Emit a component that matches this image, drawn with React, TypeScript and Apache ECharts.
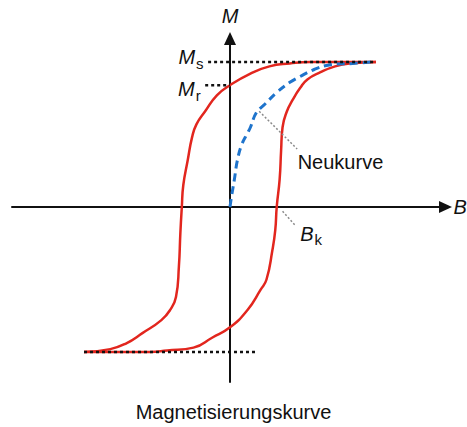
import { useEffect, useRef } from "react";
import * as echarts from "echarts";

// Field strength B and magnetisation M, normalised to the saturation point (1, 1).
const upperBranch: [number, number][] = [
  [1.0, 1.0], [0.75, 1.0], [0.55, 1.0], [0.41, 0.99], [0.27, 0.97], [0.14, 0.92],
  [0.0, 0.84], [-0.09, 0.77], [-0.17, 0.66], [-0.23, 0.57], [-0.26, 0.48],
  [-0.29, 0.32], [-0.32, 0.15], [-0.33, 0.0], [-0.34, -0.18], [-0.35, -0.41],
  [-0.37, -0.62], [-0.41, -0.71], [-0.47, -0.78], [-0.6, -0.87], [-0.71, -0.94],
  [-0.82, -0.98], [-1.0, -1.0],
];

const lowerBranch: [number, number][] = [
  [-1.0, -1.0], [-0.75, -1.0], [-0.55, -1.0], [-0.43, -0.99], [-0.25, -0.97],
  [-0.12, -0.9], [0.0, -0.83], [0.12, -0.71], [0.21, -0.57], [0.25, -0.5],
  [0.29, -0.3], [0.31, -0.16], [0.32, 0.0], [0.34, 0.19], [0.35, 0.39],
  [0.36, 0.55], [0.39, 0.66], [0.43, 0.74], [0.48, 0.82], [0.53, 0.88],
  [0.62, 0.93], [0.72, 0.97], [0.82, 0.99], [1.0, 1.0],
];

// Neukurve: first magnetisation from the demagnetised state
const initialCurve: [number, number][] = [
  [0.0, 0.0], [0.01, 0.07], [0.03, 0.19], [0.05, 0.32], [0.08, 0.43], [0.12, 0.51],
  [0.14, 0.55], [0.18, 0.65], [0.24, 0.71], [0.32, 0.79], [0.41, 0.86],
  [0.48, 0.9], [0.58, 0.95], [0.68, 0.98], [0.84, 0.99], [0.97, 1.0],
];

// Reference levels: saturation Ms, remanence Mr, negative saturation
const saturationLine: [number, number][] = [[-0.15, 1.0], [1.0, 1.0]];
const remanenceLine: [number, number][] = [[-0.17, 0.84], [0.0, 0.84]];
const negSaturationLine: [number, number][] = [[-1.0, -1.0], [0.19, -1.0]];

// Leader lines for the annotations
const initialLeader: [number, number][] = [[0.2, 0.66], [0.46, 0.4]];
const coercivityLeader: [number, number][] = [[0.36, -0.03], [0.45, -0.13]];

const annotationKeys = ["Ms", "Mr", "Bk", "Neukurve"];
const annotationAnchors: [number, number][] = [
  saturationLine[0], remanenceLine[0], coercivityLeader[1], initialLeader[1],
];
const annotationTexts = ["{m|M}{s|s}", "{m|M}{s|r}", "{m|B}{s|k}", "{t|Neukurve}"];

const axisNames = { x: "B", y: "M" };
const caption = "Magnetisierungskurve";

// pixel layout
const W = 467;
const H = 427;
const ORIGIN_X = 230;
const ORIGIN_Y = 207;
const PX_PER_B = 146;
const PX_PER_M = 145;
const AXIS_LEFT = 12;
const AXIS_RIGHT = 445.5;
const AXIS_TOP = 38.5;
const AXIS_BOTTOM = 382;

const FONT = "'Liberation Sans', Arial, sans-serif";
const INK = "#111111";
const RED = "#e2261e";
const BLUE = "#1f74cc";

export default function App() {
  const ref = useRef<HTMLDivElement>(null);

  useEffect(() => {
    if (!ref.current) return;
    const chart = echarts.init(ref.current, undefined, { renderer: "svg" });

    const axisCommon = {
      type: "value" as const,
      axisTick: { show: false },
      axisLabel: { show: false },
      splitLine: { show: false },
      nameLocation: "end" as const,
      nameTextStyle: { fontSize: 20, fontStyle: "italic", fontFamily: FONT, color: INK },
    };

    const placements: Record<string, any> = {
      Ms: { position: "left", distance: 4, offset: [0, -5] },
      Mr: { position: "left", distance: 4, offset: [0, 4] },
      Bk: { position: "right", distance: 4, offset: [0, 8] },
      Neukurve: { position: "right", distance: 0, offset: [0, 13] },
    };

    const labelData = annotationKeys.map((k, i) => ({
      name: k,
      value: annotationAnchors[i],
      label: { show: true, formatter: annotationTexts[i], ...placements[k] },
    }));

    chart.setOption({
      animation: false,
      grid: {
        left: AXIS_LEFT,
        right: W - AXIS_RIGHT,
        top: AXIS_TOP,
        bottom: H - AXIS_BOTTOM,
        containLabel: false,
        outerBoundsMode: "none",
      },
      title: {
        text: caption,
        left: "center",
        top: 397,
        textStyle: { fontSize: 20, fontWeight: "normal", fontFamily: FONT, color: INK },
      },
      xAxis: {
        ...axisCommon,
        min: (AXIS_LEFT - ORIGIN_X) / PX_PER_B,
        max: (AXIS_RIGHT - ORIGIN_X) / PX_PER_B,
        name: axisNames.x,
        nameGap: 8,
        axisLine: {
          onZero: true,
          symbol: ["none", "triangle"],
          symbolSize: [12, 13],
          lineStyle: { color: INK, width: 2 },
        },
      },
      yAxis: {
        ...axisCommon,
        min: -(AXIS_BOTTOM - ORIGIN_Y) / PX_PER_M,
        max: (ORIGIN_Y - AXIS_TOP) / PX_PER_M,
        name: axisNames.y,
        nameGap: 13,
        axisLine: {
          onZero: true,
          symbol: ["none", "triangle"],
          symbolSize: [12, 13],
          lineStyle: { color: INK, width: 2 },
        },
      },
      series: [
        {
          type: "line",
          data: upperBranch,
          smooth: 0.5,
          showSymbol: false,
          lineStyle: { color: RED, width: 2.5 },
          z: 3,
        },
        {
          type: "line",
          data: lowerBranch,
          smooth: 0.5,
          showSymbol: false,
          lineStyle: { color: RED, width: 2.5 },
          z: 3,
        },
        {
          type: "line",
          data: initialCurve,
          smooth: 0.4,
          showSymbol: false,
          lineStyle: { color: BLUE, width: 3, type: [8, 5] },
          z: 4,
        },
        ...[saturationLine, remanenceLine, negSaturationLine].map((d) => ({
          type: "line",
          data: d,
          showSymbol: false,
          lineStyle: { color: "#111", width: 2.5, type: [3, 3] },
          z: 5,
        })),
        ...[initialLeader, coercivityLeader].map((d) => ({
          type: "line",
          data: d,
          showSymbol: false,
          lineStyle: { color: "#8a8a8a", width: 1.5, type: [2, 2] },
          z: 5,
        })),
        {
          type: "scatter",
          data: labelData,
          symbolSize: 1,
          itemStyle: { color: "rgba(0,0,0,0)" },
          z: 6,
          label: {
            show: true,
            color: INK,
            opacity: 1,
            textBorderWidth: 0,
            fontFamily: FONT,
            rich: {
              m: { fontSize: 20, fontStyle: "italic", fontFamily: FONT, color: INK, lineHeight: 24 },
              s: { fontSize: 15, fontFamily: FONT, color: INK, padding: [12, 0, 0, 1], lineHeight: 15 },
              t: { fontSize: 20, fontFamily: FONT, color: INK },
            },
          },
        },
      ],
    });

    return () => chart.dispose();
  }, []);

  return (
    <div
      ref={ref}
      style={{ position: "absolute", left: 0, top: 0, width: W, height: H }}
    />
  );
}
